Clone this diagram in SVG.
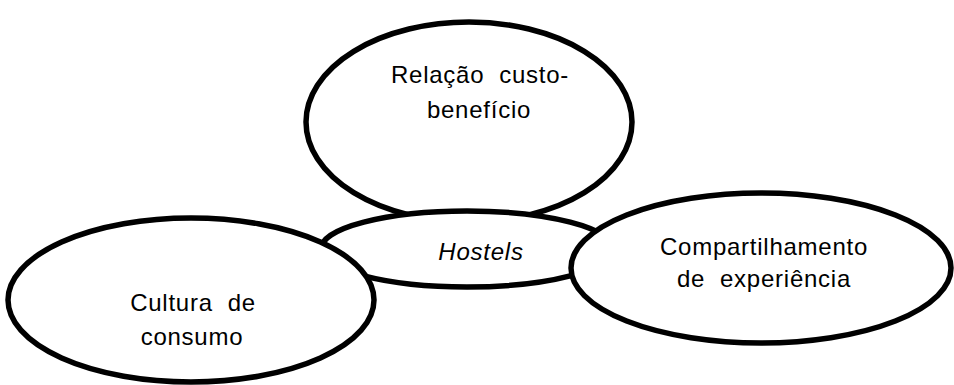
<svg xmlns="http://www.w3.org/2000/svg" width="954" height="385" viewBox="0 0 954 385">
<style>
.n{fill:#fff;stroke:#000;stroke-width:5.5}
.t{font-family:"Liberation Sans",Arial,sans-serif;font-size:24px;letter-spacing:0.75px;fill:#000;text-anchor:middle;white-space:pre}
</style>
<rect width="954" height="385" fill="#fff"/>
<g id="connectors"></g>
<g id="relacao">
<ellipse class="n" cx="469" cy="122" rx="163" ry="100"/>
<text class="t" x="480" y="83" xml:space="preserve">Relação  custo-</text>
<text class="t" x="479" y="118">benefício</text>
</g>
<g id="hostels">
<ellipse class="n" cx="467" cy="249" rx="146" ry="38"/>
<text class="t" x="481" y="260" font-style="italic">Hostels</text>
</g>
<g id="cultura">
<ellipse class="n" cx="191" cy="300" rx="183" ry="82"/>
<text class="t" x="193" y="311" xml:space="preserve">Cultura  de</text>
<text class="t" x="192" y="345">consumo</text>
</g>
<g id="compartilhamento">
<ellipse class="n" cx="761" cy="268" rx="190" ry="75"/>
<text class="t" x="764" y="255">Compartilhamento</text>
<text class="t" x="764" y="287" xml:space="preserve">de  experiência</text>
</g>
</svg>
